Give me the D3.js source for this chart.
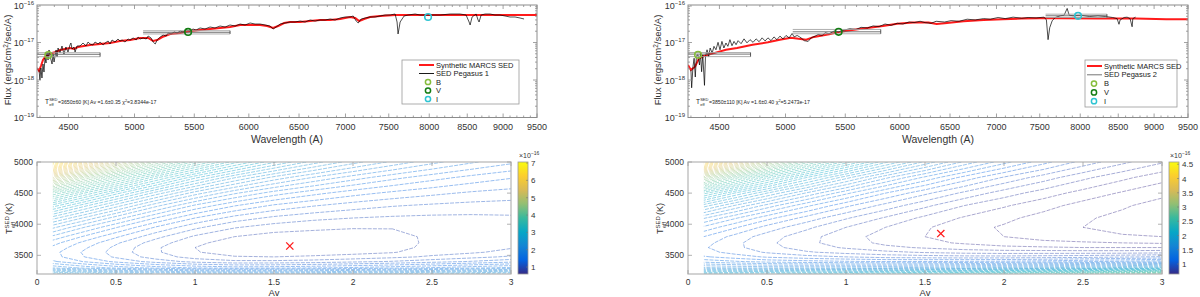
<!DOCTYPE html>
<html>
<head>
<meta charset="utf-8">
<script src="https://cdn.jsdelivr.net/npm/d3@7"></script>
<style>
  body { margin: 0; background: #fff; }
  svg { font-family: "Liberation Sans", Arial, sans-serif; }
</style>
</head>
<body>
<svg id="fig" width="1200" height="297"></svg>
<script>
// ---------- DATA ----------
const FLUX_UNIT = 1e-17; // all fluxes below are in units of 1e-17 ergs/cm2/sec/A
const waveDomain = [4280, 9500];
const fluxDomain = [1e-19, 1e-16];
const waveTicks = [4500, 5000, 5500, 6000, 6500, 7000, 7500, 8000, 8500, 9000, 9500];
const fluxTicks = [1e-19, 1e-18, 1e-17, 1e-16];
const fluxTickExp = ["\u221219", "\u221218", "\u221217", "\u221216"];

// Pegasus 1 : synthetic MARCS model (red) and observed SED (black), [wavelength A, flux]
const model1 = [[4280,0.209],[4294,0.174],[4307,0.236],[4321,0.341],[4335,0.411],[4356,0.464],[4384,0.525],[4412,0.558],
  [4440,0.631],[4475,0.671],[4511,0.713],[4540,0.671],[4569,0.759],[4613,0.806],[4658,0.858],[4733,0.912],[4809,0.97],
  [4886,1.096],[4965,1.166],[5045,1.32],[5110,1.32],[5151,1.096],[5184,1.166],[5226,1.40],[5293,1.69],[5377,1.79],
  [5463,2.03],[5551,2.15],[5640,2.29],[5731,2.44],[5823,2.59],[5917,2.93],[6012,2.93],[6109,2.93],[6178,2.75],[6237,2.44],
  [6287,2.75],[6347,3.31],[6408,3.52],[6511,3.52],[6616,3.74],[6722,3.98],[6830,3.98],[6940,4.23],[7052,4.79],[7109,4.50],
  [7154,3.74],[7211,4.23],[7280,4.79],[7397,5.09],[7576,5.41],[7884,5.41],[8403,5.41],[8956,5.41],[9500,5.41]];
const obs1 = [[4294,0.185],[4300,0.1],[4307,0.209],[4314,0.113],[4321,0.267],[4328,0.163],[4335,0.386],[4342,0.284],
  [4349,0.558],[4356,0.341],[4363,0.631],[4370,0.437],[4384,0.267],[4391,0.494],[4398,0.302],[4412,0.631],[4419,0.411],
  [4426,0.713],[4440,0.525],[4454,0.806],[4468,0.494],[4482,0.759],[4497,0.558],[4511,0.858],[4518,0.97],[4526,0.671],
  [4540,0.759],[4548,0.558],[4562,0.806],[4584,0.806],[4606,0.97],[4628,0.806],[4643,1.03],[4658,0.912],[4680,0.858],
  [4695,1.03],[4718,0.912],[4733,1.03],[4756,0.858],[4771,0.97],[4794,1.096],[4809,0.912],[4824,1.166],[4847,1.03],
  [4870,1.24],[4886,1.096],[4902,1.166],[4925,1.03],[4949,1.24],[4965,1.166],[4989,1.32],[5013,1.166],[5029,1.40],
  [5045,1.24],[5069,1.32],[5094,1.24],[5110,1.49],[5134,1.32],[5151,1.03],[5168,0.912],[5184,1.166],[5209,1.40],
  [5234,1.585],[5259,1.49],[5276,1.79],[5301,1.69],[5327,1.91],[5352,1.79],[5377,2.03],[5403,1.91],[5429,2.15],
  [5463,2.03],[5489,2.29],[5516,2.15],[5551,2.44],[5595,2.29],[5640,2.59],[5685,2.44],[5731,2.75],[5777,2.59],
  [5823,2.93],[5870,2.75],[5917,3.11],[5964,2.93],[6012,3.31],[6060,3.11],[6109,3.11],[6158,2.93],[6207,2.75],
  [6237,2.29],[6267,2.59],[6307,3.11],[6357,3.31],[6408,3.52],[6459,3.52],[6511,3.74],[6563,3.52],[6616,3.98],
  [6669,3.74],[6722,3.98],[6776,3.98],[6830,4.23],[6885,3.98],[6940,4.50],[6996,4.79],[7052,4.79],[7086,5.09],
  [7120,3.74],[7143,3.31],[7177,4.23],[7223,4.50],[7280,4.79],[7338,4.79],[7397,5.09],[7456,5.41],[7516,5.41],
  [7576,5.75],[7600,3.52],[7612,1.69],[7625,2.44],[7637,3.52],[7661,4.23],[7686,5.09],[7735,5.41],[7822,5.75],
  [7884,5.41],[7947,5.41],[8011,5.41],[8140,5.41],[8271,5.75],[8403,5.75],[8484,5.41],[8525,3.52],[8539,2.93],
  [8566,4.79],[8621,5.75],[8648,3.98],[8662,3.52],[8690,5.41],[8745,5.75],[8815,5.75],[8885,5.41],[8956,5.41],
  [9028,5.09],[9100,4.79],[9173,4.79],[9247,4.50],[9306,4.23]];
// photometry: band centre, flux, band extent and the three flux bars
const phot1 = [
  { band: "B", color: "#86bd3c", wave: 4358, flux: 0.464, lo: 4250, hi: 4733, bars: [0.535, 0.484, 0.418] },
  { band: "V", color: "#137d13", wave: 5446, flux: 1.91, lo: 5069, hi: 5823, bars: [2.06, 1.87, 1.69] },
  { band: "I", color: "#2ec4d2", wave: 7985, flux: 4.79, lo: 0, hi: 0, bars: [] }
];

// Pegasus 2
const model2 = [[4280,0.251],[4300,0.185],[4328,0.226],[4356,0.38],[4394,0.443],[4461,0.52],[4547,0.64],[4628,0.713],
  [4744,0.874],[4862,1.01],[4955,1.19],[5043,1.33],[5105,1.25],[5168,1.19],[5232,1.41],[5360,1.66],[5442,1.89],
  [5560,2.14],[5697,2.42],[5840,2.75],[5975,3.18],[6127,3.39],[6280,3.39],[6362,3.11],[6444,3.25],[6642,3.68],
  [6858,4.0],[7072,4.18],[7288,4.34],[7500,4.44],[7745,4.44],[8229,4.34],[8738,4.34],[9176,4.18],[9500,4.18]];
const obs2 = [[4300,0.185],[4305,0.062],[4314,0.226],[4322,0.38],[4330,0.12],[4338,0.443],[4349,0.47],[4359,0.251],
  [4366,0.52],[4374,0.166],[4382,0.47],[4394,0.072],[4401,0.42],[4412,0.64],[4423,0.42],[4434,0.713],[4448,0.52],
  [4461,0.79],[4475,0.64],[4490,1.01],[4504,0.64],[4518,1.07],[4532,0.713],[4547,0.97],[4561,0.79],[4576,1.19],
  [4591,0.82],[4606,1.07],[4621,0.874],[4636,1.12],[4658,0.93],[4680,1.25],[4702,0.98],[4725,1.19],[4748,1.01],
  [4771,1.25],[4794,1.05],[4817,1.33],[4840,1.10],[4862,1.33],[4886,1.12],[4909,1.41],[4932,1.19],[4956,1.48],
  [4980,1.25],[5004,1.54],[5029,1.33],[5053,1.74],[5069,1.41],[5094,1.54],[5126,1.33],[5151,1.12],[5184,1.07],
  [5209,1.33],[5242,1.48],[5268,1.64],[5301,1.54],[5327,1.82],[5360,1.71],[5403,2.02],[5442,1.93],[5489,2.14],
  [5540,2.33],[5595,2.23],[5640,2.54],[5697,2.44],[5750,2.77],[5805,2.65],[5860,3.11],[5917,2.87],[5975,3.25],
  [6030,3.11],[6090,3.52],[6138,3.39],[6197,3.68],[6247,3.39],[6307,3.25],[6357,3.68],[6444,3.52],[6511,3.83],
  [6595,3.68],[6680,4.18],[6766,4.0],[6858,4.34],[6930,4.18],[7018,4.64],[7098,4.34],[7188,4.74],[7288,4.44],
  [7362,4.64],[7456,4.53],[7552,4.74],[7580,4.0],[7600,1.19],[7620,2.48],[7650,3.79],[7686,4.64],[7750,5.16],
  [7797,5.34],[7835,8.1],[7860,5.34],[7910,5.16],[8011,5.34],[8120,4.93],[8229,5.16],[8330,4.93],[8425,4.64],
  [8484,4.34],[8510,3.06],[8525,4.0],[8580,4.64],[8621,4.74],[8662,4.34],[8690,2.63],[8700,4.34],[8738,4.74]];
const phot2 = [
  { band: "B", color: "#86bd3c", wave: 4349, flux: 0.47, lo: 4250, hi: 4729, bars: [0.54, 0.49, 0.42] },
  { band: "V", color: "#137d13", wave: 5442, flux: 1.93, lo: 5058, hi: 5820, bars: [2.23, 1.93, 1.71] },
  { band: "I", color: "#2ec4d2", wave: 7972, flux: 5.16, lo: 7570, hi: 8348, bars: [5.69, 5.16, 4.64] }
];

// chi2 maps (units 1e-16) on an Av x Teff grid
const avGrid = [0.1, 0.3, 0.5, 0.75, 1.0, 1.25, 1.5, 1.75, 2.0, 2.25, 2.5, 2.75, 3.0];
const teffGrid = [3200, 3300, 3400, 3475, 3550, 3625, 3700, 3800, 3950, 4100, 4300, 4500, 4750, 5000];
const chi1 = [
  [2.68, 2.56, 2.45, 2.33, 2.25, 2.22, 2.24, 2.27, 2.32, 2.37, 2.45, 2.51, 2.58],
  [1.96, 1.82, 1.70, 1.57, 1.48, 1.44, 1.45, 1.48, 1.52, 1.57, 1.63, 1.70, 1.77],
  [1.64, 1.49, 1.35, 1.21, 1.10, 1.05, 1.05, 1.07, 1.11, 1.15, 1.21, 1.27, 1.34],
  [1.55, 1.38, 1.24, 1.08, 0.97, 0.91, 0.90, 0.92, 0.95, 0.99, 1.04, 1.10, 1.16],
  [1.54, 1.36, 1.21, 1.04, 0.91, 0.84, 0.83, 0.84, 0.86, 0.89, 0.97, 1.00, 1.06],
  [1.59, 1.40, 1.23, 1.04, 0.90, 0.83, 0.80, 0.80, 0.82, 0.85, 0.94, 0.97, 1.01],
  [1.67, 1.46, 1.28, 1.08, 0.93, 0.84, 0.81, 0.80, 0.81, 0.84, 0.93, 0.96, 0.99],
  [1.83, 1.60, 1.40, 1.18, 1.00, 0.90, 0.85, 0.84, 0.84, 0.85, 0.93, 0.95, 0.97],
  [2.13, 1.86, 1.63, 1.37, 1.17, 1.03, 0.96, 0.93, 0.91, 0.91, 0.94, 0.96, 0.97],
  [2.51, 2.20, 1.92, 1.62, 1.38, 1.21, 1.11, 1.05, 1.02, 1.00, 0.99, 0.99, 1.00],
  [3.13, 2.74, 2.40, 2.02, 1.72, 1.51, 1.36, 1.27, 1.20, 1.15, 1.12, 1.10, 1.09],
  [3.89, 3.42, 2.99, 2.53, 2.16, 1.88, 1.68, 1.54, 1.43, 1.35, 1.29, 1.24, 1.21],
  [5.11, 4.49, 3.94, 3.34, 2.85, 2.47, 2.18, 1.97, 1.80, 1.66, 1.55, 1.46, 1.39],
  [6.70, 5.88, 5.17, 4.39, 3.74, 3.23, 2.84, 2.52, 2.27, 2.07, 1.90, 1.76, 1.65]
];
const chi2 = [
  [2.08, 2.09, 2.11, 2.15, 2.19, 2.25, 2.32, 2.39, 2.48, 2.57, 2.67, 2.78, 2.89],
  [1.57, 1.55, 1.54, 1.54, 1.55, 1.56, 1.59, 1.63, 1.67, 1.72, 1.77, 1.83, 1.90],
  [1.29, 1.25, 1.21, 1.19, 1.17, 1.16, 1.16, 1.17, 1.18, 1.20, 1.23, 1.26, 1.29],
  [1.17, 1.12, 1.07, 1.03, 1.00, 0.97, 0.96, 0.95, 0.95, 0.96, 0.97, 0.99, 1.01],
  [1.11, 1.05, 0.99, 0.93, 0.89, 0.86, 0.83, 0.81, 0.80, 0.80, 0.80, 0.80, 0.81],
  [1.09, 1.02, 0.95, 0.88, 0.83, 0.78, 0.75, 0.72, 0.70, 0.69, 0.68, 0.68, 0.68],
  [1.11, 1.02, 0.94, 0.86, 0.80, 0.74, 0.70, 0.67, 0.64, 0.62, 0.61, 0.60, 0.59],
  [1.16, 1.05, 0.96, 0.87, 0.79, 0.73, 0.68, 0.63, 0.60, 0.57, 0.55, 0.53, 0.52],
  [1.30, 1.17, 1.05, 0.94, 0.84, 0.76, 0.69, 0.63, 0.59, 0.55, 0.52, 0.49, 0.47],
  [1.49, 1.33, 1.19, 1.05, 0.93, 0.83, 0.74, 0.67, 0.62, 0.57, 0.53, 0.50, 0.47],
  [1.84, 1.63, 1.45, 1.26, 1.10, 0.97, 0.86, 0.76, 0.69, 0.63, 0.57, 0.53, 0.49],
  [2.31, 2.03, 1.80, 1.55, 1.34, 1.16, 1.02, 0.90, 0.80, 0.72, 0.65, 0.59, 0.54],
  [3.10, 2.72, 2.39, 2.04, 1.75, 1.50, 1.30, 1.13, 0.99, 0.88, 0.78, 0.70, 0.63],
  [4.21, 3.67, 3.21, 2.72, 2.32, 1.98, 1.70, 1.46, 1.27, 1.11, 0.97, 0.86, 0.77]
];
const best1 = { av: 1.6, teff: 3650 };
const best2 = { av: 1.6, teff: 3850 };
const avTicks = [0, 0.5, 1, 1.5, 2, 2.5, 3];
const teffTicks = [3500, 4000, 4500, 5000];
const cbTicks1 = [1, 2, 3, 4, 5, 6, 7];
const cbTicks2 = [1, 1.5, 2, 2.5, 3, 3.5, 4, 4.5];

// ---------- SETUP ----------
const svg = d3.select("#fig");
const defs = svg.append("defs");
const PARULA = ["#352a87", "#0363e1", "#1485d4", "#06a7c6", "#38b99e", "#92bf73", "#d9ba56", "#fcce2e", "#f9fb0e"];
const parula = d3.scaleLinear().domain(d3.range(9).map(i => i / 8)).range(PARULA).clamp(true);
const frameColor = "#8c8c8c";
const textColor = "#333";

// ---------- SED PANELS ----------
function sedPanel(ox, model, obs, phot, leg, note) {
  const W = 500, H = 112.5;
  const g = svg.append("g").attr("transform", `translate(${ox},5)`);
  const x = d3.scaleLog().domain(waveDomain).range([0, W]);
  const y = d3.scaleLog().domain(fluxDomain).range([H, 0]);
  const clipId = "sedclip" + ox;
  defs.append("clipPath").attr("id", clipId).append("rect").attr("width", W).attr("height", H);
  const plot = g.append("g").attr("clip-path", `url(#${clipId})`);

  const line = d3.line().x(d => x(d[0])).y(d => y(d[1] * FLUX_UNIT));
  plot.append("path").datum(model).attr("d", line)
    .attr("fill", "none").attr("stroke", "#ff1a1a").attr("stroke-width", 2);
  plot.append("path").datum(obs).attr("d", line)
    .attr("fill", "none").attr("stroke", "#000").attr("stroke-width", 0.7);

  // band width bars
  phot.forEach(p => {
    p.bars.forEach((f, i) => {
      plot.append("line")
        .attr("x1", x(p.lo)).attr("x2", x(p.hi))
        .attr("y1", y(f * FLUX_UNIT)).attr("y2", y(f * FLUX_UNIT))
        .attr("stroke", i === 1 ? "#666" : "#a5a5a5").attr("stroke-width", 0.9);
    });
    if (p.bars.length) {
      plot.append("line")
        .attr("x1", x(p.hi)).attr("x2", x(p.hi))
        .attr("y1", y(p.bars[0] * FLUX_UNIT)).attr("y2", y(p.bars[2] * FLUX_UNIT))
        .attr("stroke", "#444").attr("stroke-width", 0.9);
    }
  });
  // photometric points
  plot.selectAll("circle.ph").data(phot).enter().append("circle")
    .attr("cx", d => x(d.wave)).attr("cy", d => y(d.flux * FLUX_UNIT)).attr("r", 3.3)
    .attr("fill", "none").attr("stroke", d => d.color).attr("stroke-width", 1.6);

  // frame and ticks (all four sides, inward)
  g.append("rect").attr("width", W).attr("height", H)
    .attr("fill", "none").attr("stroke", frameColor).attr("stroke-width", 1);
  const tk = g.append("g").attr("stroke", frameColor).attr("stroke-width", 0.8);
  d3.range(4300, 9501, 100).forEach(w => {
    const len = waveTicks.includes(w) ? 4 : 2;
    const xx = x(w);
    tk.append("line").attr("x1", xx).attr("x2", xx).attr("y1", H).attr("y2", H - len);
    tk.append("line").attr("x1", xx).attr("x2", xx).attr("y1", 0).attr("y2", len);
  });
  fluxTicks.slice(0, 3).forEach(dec => {
    d3.range(1, 10).forEach(m => {
      const yy = y(dec * m);
      const len = m === 1 ? 4 : 2;
      tk.append("line").attr("x1", 0).attr("x2", len).attr("y1", yy).attr("y2", yy);
      tk.append("line").attr("x1", W).attr("x2", W - len).attr("y1", yy).attr("y2", yy);
    });
  });

  // tick labels
  g.selectAll("text.xl").data(waveTicks).enter().append("text")
    .attr("x", d => x(d)).attr("y", H + 12.5).attr("text-anchor", "middle")
    .attr("font-size", 9).attr("fill", textColor).text(d => d);
  fluxTicks.forEach((f, i) => {
    const t = g.append("text").attr("x", -3).attr("y", y(f) + 3.5).attr("text-anchor", "end")
      .attr("font-size", 9).attr("fill", textColor);
    t.append("tspan").text("10");
    t.append("tspan").attr("dy", -4).attr("font-size", 6).text(fluxTickExp[i]);
  });

  // axis titles
  g.append("text").attr("x", W / 2).attr("y", H + 25.5).attr("text-anchor", "middle")
    .attr("font-size", 10.5).attr("fill", textColor).text("Wavelength (A)");
  const yl = g.append("text").attr("transform", `translate(${-ox + leg.ylabX},${55}) rotate(-90)`)
    .attr("text-anchor", "middle").attr("font-size", 9.5).attr("fill", textColor);
  yl.append("tspan").text("Flux (ergs/cm");
  yl.append("tspan").attr("dy", -3.5).attr("font-size", 6.5).text("2");
  yl.append("tspan").attr("dy", 3.5).text("/sec/A)");

  // fit annotation
  const nx = 8, ny = 99;
  g.append("text").attr("x", nx).attr("y", ny).attr("font-size", 6.5).attr("fill", "#222").text("T");
  g.append("text").attr("x", nx + 4.2).attr("y", ny - 3).attr("font-size", 4).attr("fill", "#222").text("SED");
  g.append("text").attr("x", nx + 4.2).attr("y", ny + 2).attr("font-size", 4).attr("fill", "#222").text("eff");
  const nt = g.append("text").attr("x", nx + 13).attr("y", ny).attr("font-size", 5.2).attr("fill", "#222");
  nt.append("tspan").text(`=${note.teff} [K] Av =${note.av} \u03c7`);
  nt.append("tspan").attr("dy", -2.2).attr("font-size", 3.8).text("2");
  nt.append("tspan").attr("dy", 2.2).text(`=${note.chi}`);

  // legend
  const lg = svg.append("g");
  lg.append("rect").attr("x", leg.x).attr("y", leg.y).attr("width", leg.w).attr("height", leg.h)
    .attr("fill", "#fff").attr("stroke", "#9a9a9a").attr("stroke-width", 0.8);
  const rows = [
    { kind: "line", color: "#ff1a1a", width: 2, label: "Synthetic MARCS SED" },
    { kind: "line", color: leg.obsColor, width: 0.9, label: leg.obsLabel },
    ...phot.map(p => ({ kind: "circle", color: p.color, label: p.band }))
  ];
  rows.forEach((r, i) => {
    const ry = leg.y + leg.top + i * leg.gap;
    if (r.kind === "line") {
      lg.append("line").attr("x1", leg.x + leg.lx0).attr("x2", leg.x + leg.lx1).attr("y1", ry).attr("y2", ry)
        .attr("stroke", r.color).attr("stroke-width", r.width);
    } else {
      lg.append("circle").attr("cx", leg.x + leg.cx).attr("cy", ry).attr("r", 2.6)
        .attr("fill", "none").attr("stroke", r.color).attr("stroke-width", 1.5);
    }
    lg.append("text").attr("x", leg.x + leg.tx).attr("y", ry + 2.6).attr("font-size", 7.5)
      .attr("fill", "#222").text(r.label);
  });
}

sedPanel(37, model1, obs1, phot1,
  { x: 402, y: 60, w: 117, h: 44, top: 5, gap: 8.5, lx0: 17, lx1: 32, cx: 26, tx: 34,
    obsLabel: "SED Pegasus 1", obsColor: "#000", ylabX: 11 },
  { teff: "3650\u00b160", av: "1.6\u00b10.35", chi: "3.8344e-17" });
sedPanel(688, model2, obs2, phot2,
  { x: 1085, y: 60, w: 92, h: 47, top: 6, gap: 8.8, lx0: 2, lx1: 17, cx: 9, tx: 19,
    obsLabel: "SED Pegasus 2", obsColor: "#666", ylabX: 661 },
  { teff: "3850\u00b1110", av: "1.6\u00b10.40", chi: "5.2473e-17" });

// ---------- CHI2 CONTOUR PANELS ----------
function chiPanel(ox, grid, best, cbDomain, cbTicks, cbX, levels) {
  const W = 474, H = 112, top = 162;
  const g = svg.append("g").attr("transform", `translate(${ox},${top})`);
  const x = d3.scaleLinear().domain([0, 3]).range([0, W]);
  const y = d3.scaleLinear().domain([3200, 5000]).range([H, 0]);
  const nx = avGrid.length, ny = teffGrid.length;
  const colToAv = d3.scaleLinear().domain(d3.range(nx)).range(avGrid);
  const rowToT = d3.scaleLinear().domain(d3.range(ny)).range(teffGrid);
  const norm = d3.scaleLinear().domain(cbDomain).range([0, 1]);

  const clipId = "chiclip" + ox;
  defs.append("clipPath").attr("id", clipId).append("rect")
    .attr("x", x(avGrid[0])).attr("y", 0).attr("width", x(3) - x(avGrid[0])).attr("height", H);

  const contours = d3.contours().size([nx, ny]).thresholds(levels)(grid.flat());
  const proj = d3.geoTransform({
    point(px, py) { this.stream.point(x(colToAv(px - 0.5)), y(rowToT(py - 0.5))); }
  });
  const path = d3.geoPath(proj);
  g.append("g").attr("clip-path", `url(#${clipId})`)
    .selectAll("path").data(contours).enter().append("path")
    .attr("d", path).attr("fill", "none")
    .attr("stroke", d => parula(norm(d.value)))
    .attr("stroke-width", 0.75).attr("stroke-opacity", 0.55)
    .attr("stroke-dasharray", "4 1.2");

  // best fit cross
  const bx = x(best.av), by = y(best.teff), s = 3.6;
  g.append("path").attr("d", `M${bx - s},${by - s}L${bx + s},${by + s}M${bx - s},${by + s}L${bx + s},${by - s}`)
    .attr("stroke", "#ff1a1a").attr("stroke-width", 1.3);

  // frame and ticks
  g.append("rect").attr("width", W).attr("height", H).attr("fill", "none")
    .attr("stroke", "#b5b5b5").attr("stroke-width", 1.2);
  const tk = g.append("g").attr("stroke", "#a0a0a0").attr("stroke-width", 0.8);
  avTicks.forEach(a => {
    tk.append("line").attr("x1", x(a)).attr("x2", x(a)).attr("y1", H).attr("y2", H - 4);
    tk.append("line").attr("x1", x(a)).attr("x2", x(a)).attr("y1", 0).attr("y2", 4);
  });
  teffTicks.forEach(t => {
    tk.append("line").attr("x1", 0).attr("x2", 4).attr("y1", y(t)).attr("y2", y(t));
    tk.append("line").attr("x1", W).attr("x2", W - 4).attr("y1", y(t)).attr("y2", y(t));
  });
  g.selectAll("text.xl").data(avTicks).enter().append("text")
    .attr("x", d => x(d)).attr("y", H + 11).attr("text-anchor", "middle")
    .attr("font-size", 8.5).attr("fill", textColor).text(d => d);
  g.selectAll("text.yl").data(teffTicks).enter().append("text")
    .attr("x", -4).attr("y", d => y(d) + 3).attr("text-anchor", "end")
    .attr("font-size", 8.5).attr("fill", textColor).text(d => d);
  g.append("text").attr("x", x(1.5)).attr("y", H + 22).attr("text-anchor", "middle")
    .attr("font-size", 9.5).attr("fill", textColor).text("Av");
  const yl = g.append("g").attr("transform", `translate(-25,${y(4100)}) rotate(-90)`);
  yl.append("text").attr("x", -16).attr("y", 0).attr("font-size", 9).attr("fill", textColor).text("T");
  yl.append("text").attr("x", -10.5).attr("y", -3.5).attr("font-size", 6).attr("fill", textColor).text("SED");
  yl.append("text").attr("x", -10).attr("y", 3).attr("font-size", 5.5).attr("fill", textColor).text("eff");
  yl.append("text").attr("x", 3).attr("y", 0).attr("font-size", 9).attr("fill", textColor).text("(K)");

  // colorbar
  const gid = "cbgrad" + ox;
  const grad = defs.append("linearGradient").attr("id", gid)
    .attr("x1", 0).attr("y1", 1).attr("x2", 0).attr("y2", 0);
  PARULA.forEach((c, i) => grad.append("stop").attr("offset", i / 8).attr("stop-color", c));
  const cb = svg.append("g").attr("transform", `translate(${cbX},${top})`);
  const cy = d3.scaleLinear().domain(cbDomain).range([H, 0]);
  cb.append("rect").attr("width", 10).attr("height", H).attr("fill", `url(#${gid})`)
    .attr("stroke", "#9a9a9a").attr("stroke-width", 0.8);
  cbTicks.forEach(v => {
    cb.append("line").attr("x1", 10).attr("x2", 8).attr("y1", cy(v)).attr("y2", cy(v)).attr("stroke", "#777").attr("stroke-width", 0.6);
    cb.append("text").attr("x", 13).attr("y", cy(v) + 3).attr("font-size", 8).attr("fill", textColor).text(v);
  });
  const ex = cb.append("text").attr("x", 1).attr("y", -4).attr("font-size", 7).attr("fill", textColor);
  ex.append("tspan").text("\u00d710");
  ex.append("tspan").attr("dy", -3).attr("font-size", 5).text("\u221216");
}

chiPanel(37, chi1, best1, [0.6, 7.06], cbTicks1, 518, d3.range(0.66, 7.1, 0.12));
chiPanel(688, chi2, best2, [0.65, 4.58], cbTicks2, 1169, d3.range(0.52, 4.6, 0.08));
</script>
</body>
</html>
